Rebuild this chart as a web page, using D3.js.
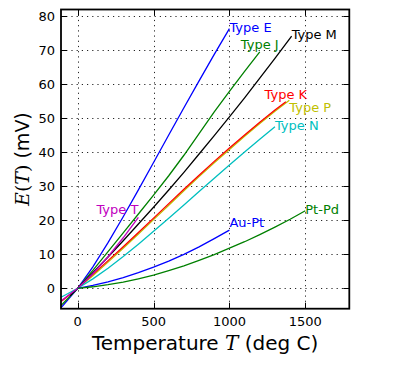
<!DOCTYPE html>
<html><head><meta charset="utf-8">
<script src="https://d3js.org/d3.v7.min.js"></script>
<style>body{margin:0;background:#fff}svg{display:block}text{font-family:"DejaVu Sans",sans-serif}</style>
</head><body><svg id="c" width="393" height="372"></svg>
<script>
// ---- data (temperature in deg C, EMF in mV) ----
const typeE_T  = [-200,-100,0,100,200,300,400,500,600,700,800,900,1000];
const typeE_mV = [-8.825,-5.237,0,6.319,13.421,21.036,28.946,36.999,45.093,53.112,61.017,68.787,76.373];
const typeJ_T  = [-200,-100,0,100,200,300,400,500,600,700,800,900,1000,1100,1200];
const typeJ_mV = [-7.890,-4.633,0,5.269,10.779,16.327,21.848,27.393,33.102,39.132,45.494,51.877,57.953,63.792,69.553];
const typeP_T  = [0,100,200,300,400,500,600,700,800,900,1000,1100,1200,1300,1395];
const typeP_mV = [0,3.7,7.7,11.75,15.95,20.2,24.45,28.7,32.85,36.9,40.85,44.75,48.5,52.1,55.3];
const typeK_T  = [-200,-100,0,100,200,300,400,500,600,700,800,900,1000,1100,1200,1300,1372];
const typeK_mV = [-5.891,-3.554,0,4.096,8.138,12.209,16.397,20.644,24.905,29.129,33.275,37.326,41.276,45.119,48.838,52.410,54.886];
const typeM_T  = [-50,0,100,200,300,400,500,600,700,800,900,1000,1100,1200,1300,1410];
const typeM_mV = [-2.2,0,4.55,9.2,14.0,18.9,23.85,28.9,34.1,39.5,44.9,50.4,56.0,61.8,67.6,74.2];
const typeN_T  = [-200,-100,0,100,200,300,400,500,600,700,800,900,1000,1100,1200,1300];
const typeN_mV = [-3.990,-2.407,0,2.774,5.913,9.341,12.974,16.748,20.613,24.527,28.455,32.371,36.256,40.087,43.846,47.513];
const typeT_T  = [-200,-100,0,100,200,300,400];
const typeT_mV = [-5.603,-3.379,0,4.279,9.288,14.862,20.872];
const auPt_T   = [0,100,200,300,400,500,600,700,800,900,1000];
const auPt_mV  = [0,0.86,1.92,3.16,4.58,6.2,8.0,10.0,12.2,14.6,17.1];
const ptPd_T   = [0,100,200,300,400,500,600,700,800,900,1000,1100,1200,1300,1400,1500];
const ptPd_mV  = [0,0.45,1.05,1.8,2.8,3.9,5.2,6.6,8.2,9.9,11.8,13.7,15.8,18.0,20.3,22.8];

const seriesNames = ["Type E","Type J","Type P","Type K","Type M","Type N","Type T","Au-Pt","Pt-Pd"];
const seriesT  = [typeE_T,typeJ_T,typeP_T,typeK_T,typeM_T,typeN_T,typeT_T,auPt_T,ptPd_T];
const seriesMV = [typeE_mV,typeJ_mV,typeP_mV,typeK_mV,typeM_mV,typeN_mV,typeT_mV,auPt_mV,ptPd_mV];

const xTicks = [0,500,1000,1500];
const yTicks = [0,10,20,30,40,50,60,70,80];

// ---- styles ----
const colors = {"Type E":"#0000ff","Type J":"#008000","Type P":"#bfbf00","Type K":"#ff0000","Type M":"#000000",
  "Type N":"#00bfbf","Type T":"#bf00bf","Au-Pt":"#0000ff","Pt-Pd":"#008000"};
// label alignment relative to the last point: [ha, va]
const labelAlign = {"Type E":["start","center"],"Type J":["middle","bottom"],"Type P":["start","top"],
  "Type K":["middle","bottom"],"Type M":["start","center"],"Type N":["start","center"],
  "Type T":["end","bottom"],"Au-Pt":["start","bottom"],"Pt-Pd":["start","center"]};

const svg = d3.select("#c");
const L=61, R=349.3, T=9.5, B=308.7;
const x = d3.scaleLinear().domain([-110,1790]).range([L,R]);
const y = d3.scaleLinear().domain([-6,82]).range([B,T]);

svg.append("defs").append("clipPath").attr("id","clip")
  .append("rect").attr("x",L).attr("y",T).attr("width",R-L).attr("height",B-T);

// grid
const g = svg.append("g");
g.selectAll(".gx").data(xTicks).join("line")
  .attr("x1",d=>Math.round(x(d))+0.5).attr("x2",d=>Math.round(x(d))+0.5).attr("y1",T).attr("y2",B)
  .attr("stroke","#000").attr("stroke-width",1).attr("stroke-dasharray","1.2,4").attr("opacity",0.85);
g.selectAll(".gy").data(yTicks).join("line")
  .attr("y1",d=>Math.round(y(d))+0.5).attr("y2",d=>Math.round(y(d))+0.5).attr("x1",L).attr("x2",R)
  .attr("stroke","#000").attr("stroke-width",1).attr("stroke-dasharray","1.2,4").attr("opacity",0.85);

// lines
const line = d3.line().x(d=>x(d[0])).y(d=>y(d[1]));
const lg = svg.append("g").attr("clip-path","url(#clip)");
seriesNames.forEach((n,i)=>{
  const pts = seriesT[i].map((t,j)=>[t,seriesMV[i][j]]);
  lg.append("path").attr("d",line(pts)).attr("fill","none")
    .attr("stroke",colors[n]).attr("stroke-width",1.3);
});

// labels
const fs = 13;
seriesNames.forEach((n,i)=>{
  const tArr = seriesT[i], vArr = seriesMV[i];
  const px = x(tArr[tArr.length-1]), py = y(vArr[vArr.length-1]);
  const [ha,va] = labelAlign[n];
  let by = py;
  if (va==="center") by = py + 0.25*fs;
  else if (va==="bottom") by = py - 0.24*fs;
  else if (va==="top") by = py + 0.88*fs;
  svg.append("text").attr("x",px).attr("y",by).attr("text-anchor",ha)
    .attr("font-size",fs).attr("fill",colors[n]).text(n);
});

// ticks (inward, all four sides)
const tk = 6;
const ax = svg.append("g").attr("stroke","#000").attr("stroke-width",1);
xTicks.forEach(d=>{
  const xx=Math.round(x(d))+0.5;
  ax.append("line").attr("x1",xx).attr("x2",xx).attr("y1",B).attr("y2",B-tk);
  ax.append("line").attr("x1",xx).attr("x2",xx).attr("y1",T).attr("y2",T+tk);
});
yTicks.forEach(d=>{
  const yy=Math.round(y(d))+0.5;
  ax.append("line").attr("y1",yy).attr("y2",yy).attr("x1",L).attr("x2",L+tk);
  ax.append("line").attr("y1",yy).attr("y2",yy).attr("x1",R).attr("x2",R-tk);
});
svg.append("rect").attr("x",L).attr("y",T).attr("width",R-L).attr("height",B-T)
  .attr("fill","none").attr("stroke","#000").attr("stroke-width",1.8);

// tick labels
svg.selectAll(".xl").data(xTicks).join("text").attr("x",d=>x(d)).attr("y",B+17)
  .attr("text-anchor","middle").attr("font-size",13).text(d=>d);
svg.selectAll(".yl").data(yTicks).join("text").attr("x",L-6).attr("y",d=>y(d)+4.5)
  .attr("text-anchor","end").attr("font-size",13).text(d=>d);

// axis labels
const xl = svg.append("text").attr("x",(L+R)/2).attr("y",350).attr("text-anchor","middle").attr("font-size",20);
xl.append("tspan").text("Temperature ");
xl.append("tspan").attr("font-family","'DejaVu Serif',serif").attr("font-style","italic").text("T");
xl.append("tspan").text(" (deg C)");

const yl = svg.append("text").attr("transform",`translate(29,${(T+B)/2}) rotate(-90)`)
  .attr("text-anchor","middle").attr("font-size",19);
yl.append("tspan").attr("font-family","'DejaVu Serif',serif").attr("font-style","italic").text("E");
yl.append("tspan").attr("font-family","'DejaVu Serif',serif").text("(");
yl.append("tspan").attr("font-family","'DejaVu Serif',serif").attr("font-style","italic").text("T");
yl.append("tspan").attr("font-family","'DejaVu Serif',serif").text(")");
yl.append("tspan").text(" (mV)");
</script></body></html>
